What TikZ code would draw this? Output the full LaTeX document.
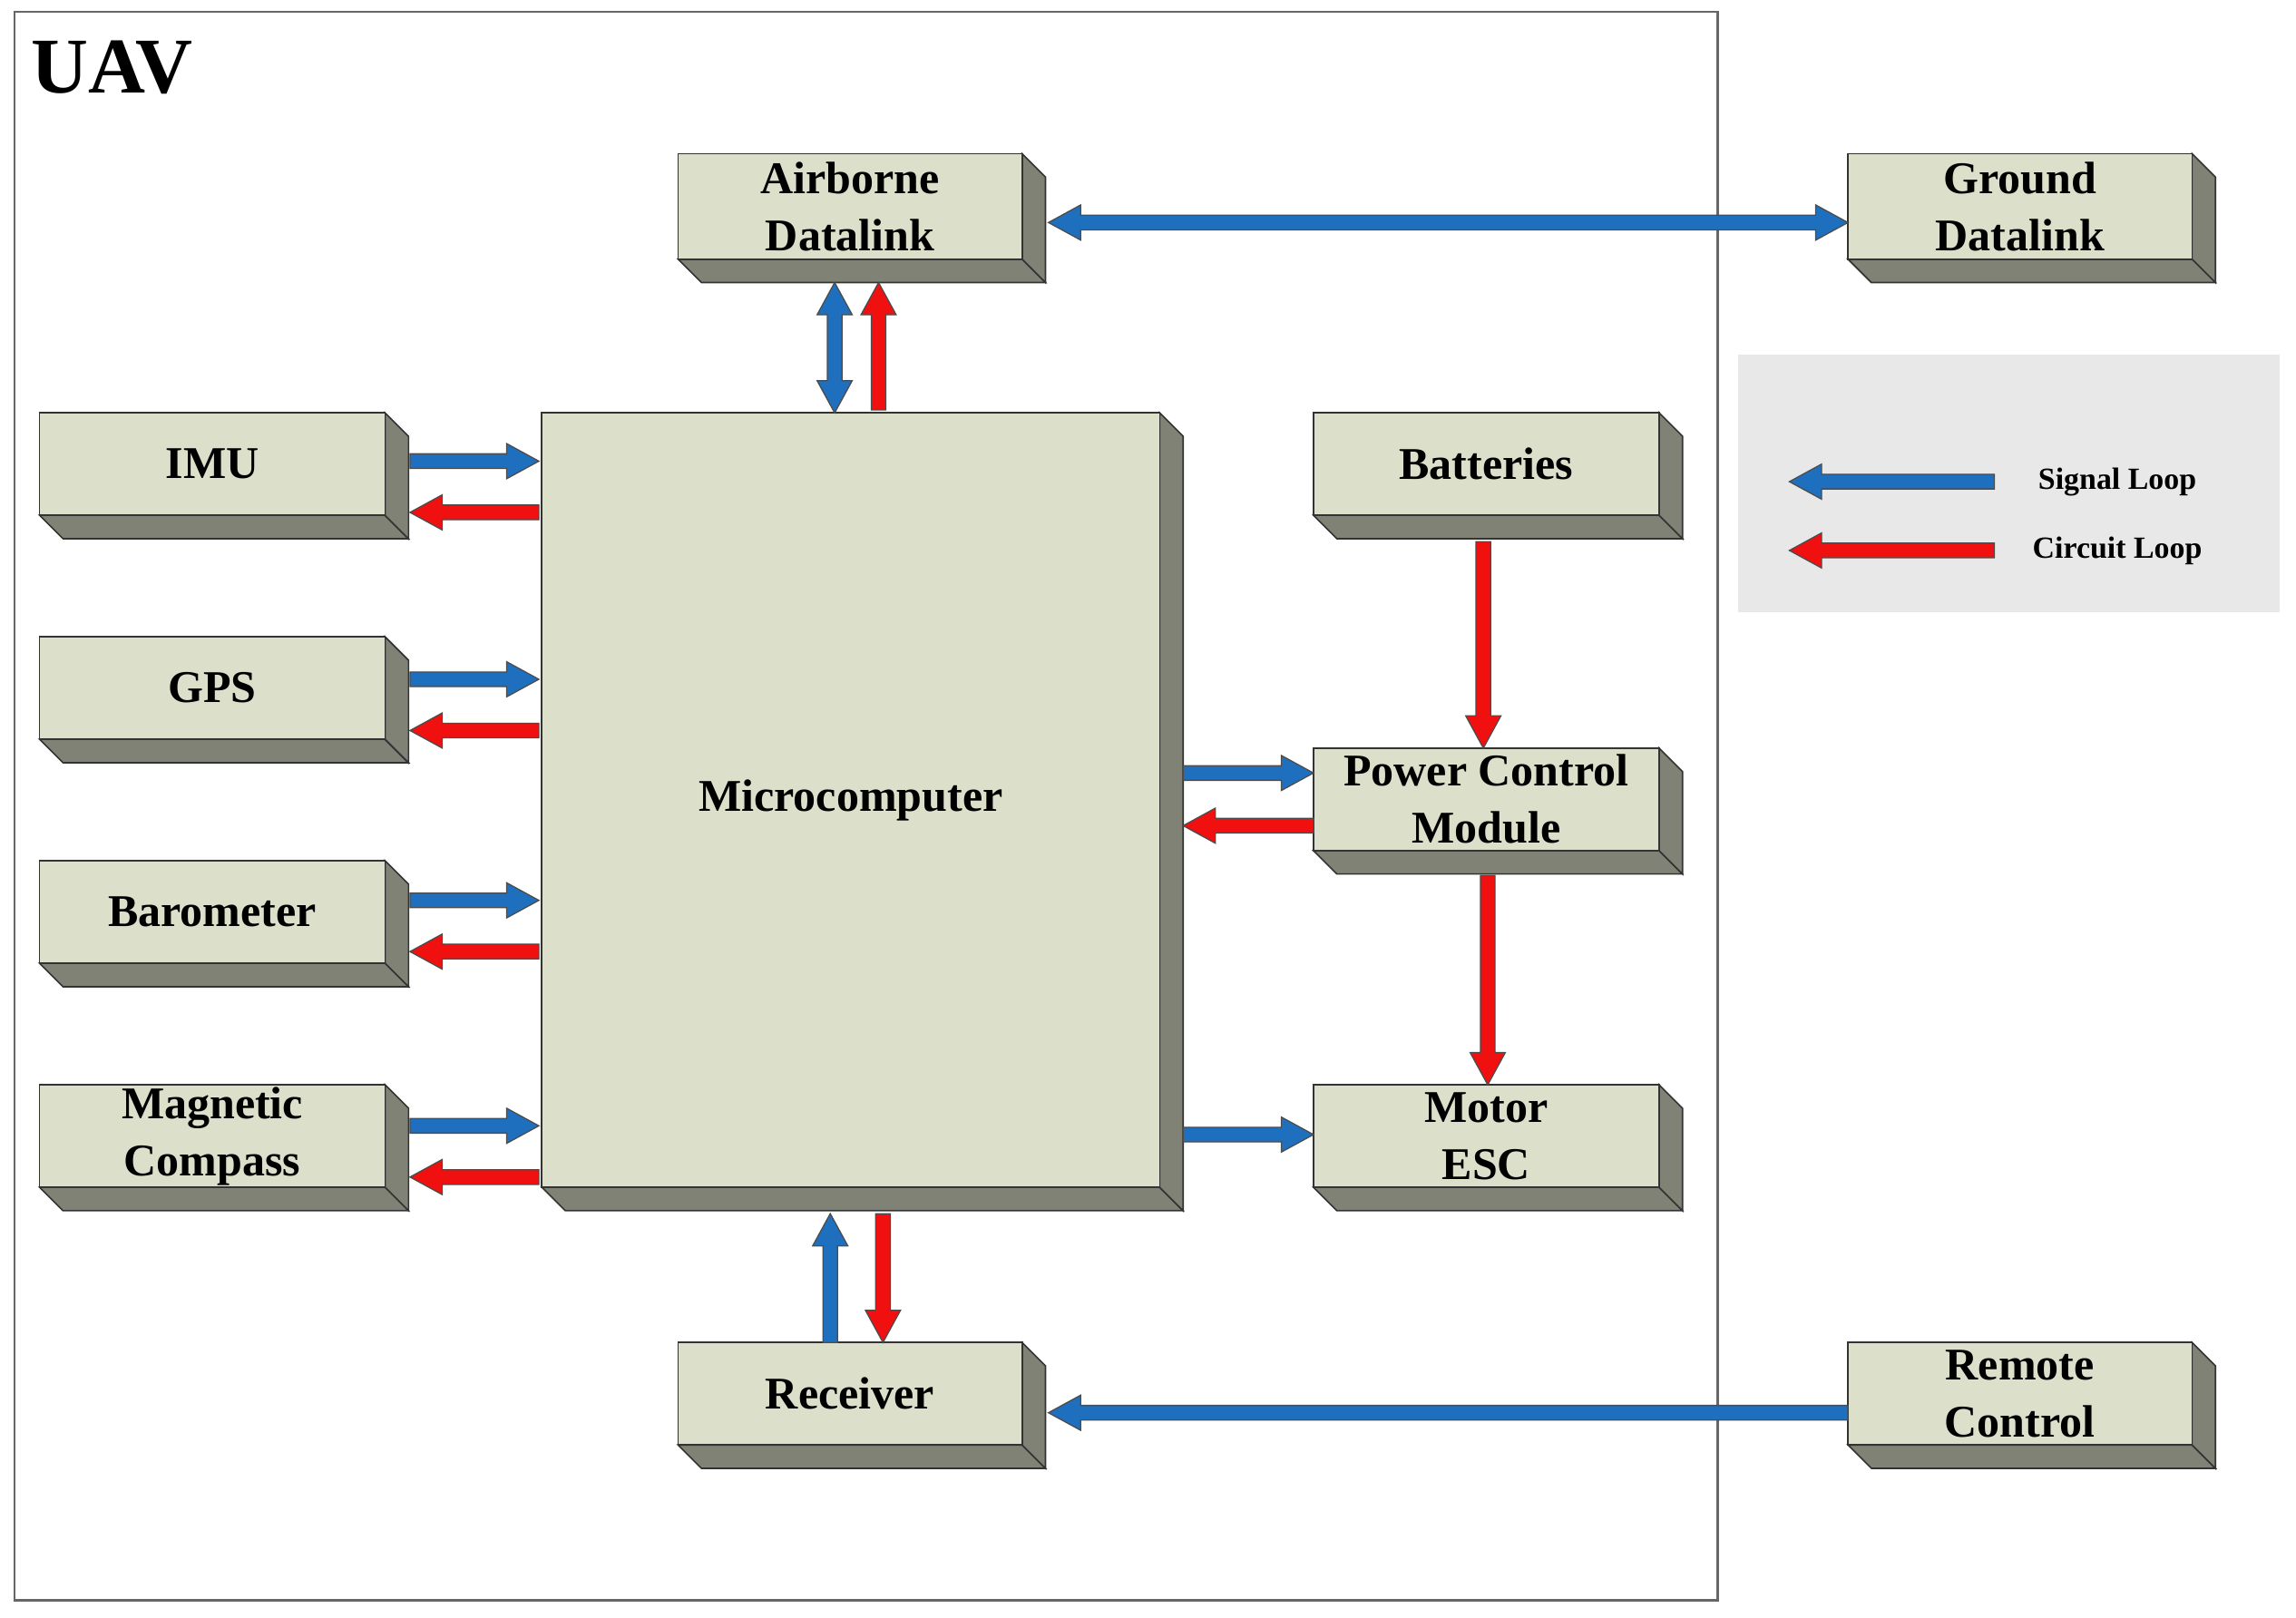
\documentclass[tikz,border=0pt]{standalone}
\usepackage{fontspec}
\setmainfont{Liberation Serif}
\begin{document}
\begin{tikzpicture}[x=1pt,y=-1pt,
  face/.style={fill=boxf,draw=black!80,line width=1pt},
  side/.style={fill=boxs,draw=black!80,line width=1pt},
  lbl/.style={font=\fontsize{31}{39}\selectfont\bfseries,align=center},
  sig/.style={fill=sigc,draw=black!70,line width=0.8pt},
  cir/.style={fill=circ,draw=black!70,line width=0.8pt}]
\definecolor{boxf}{HTML}{DCE0CB}
\definecolor{boxs}{HTML}{808275}
\definecolor{sigc}{HTML}{1F6FBF}
\definecolor{circ}{HTML}{F01010}
\useasboundingbox (0,0) rectangle (1568,1105);
\newcommand\bx[6]{% name x1 y1 x2 y2 text
  \draw[side] (#2,#5)--(#4,#5)--(#4+16,#5+16)--(#2+16,#5+16)--cycle;
  \draw[side] (#4,#3)--(#4+16,#3+16)--(#4+16,#5+16)--(#4,#5)--cycle;
  \draw[face] (#2,#3) rectangle (#4,#5);
  \node[lbl] (#1) at ({(#2+#4)/2},{(#3+#5)/2}) {#6};}
% horizontal arrow x1 -> x2 at y
\newcommand\ha[4]{\pgfmathsetmacro\dd{(#2>#1)?1:-1}\pgfmathsetmacro\hx{#2-22*\dd}
  \draw[#4] (#1,#3-5)--(\hx,#3-5)--(\hx,#3-12)--(#2,#3)--(\hx,#3+12)--(\hx,#3+5)--(#1,#3+5)--cycle;}
\newcommand\va[4]{\pgfmathsetmacro\dd{(#3>#2)?1:-1}\pgfmathsetmacro\hy{#3-22*\dd}
  \draw[#4] (#1-5,#2)--(#1-5,\hy)--(#1-12,\hy)--(#1,#3)--(#1+12,\hy)--(#1+5,\hy)--(#1+5,#2)--cycle;}
\newcommand\hda[4]{\draw[#4] (#1,#3)--(#1+22,#3-12)--(#1+22,#3-5)--(#2-22,#3-5)--(#2-22,#3-12)--(#2,#3)--(#2-22,#3+12)--(#2-22,#3+5)--(#1+22,#3+5)--(#1+22,#3+12)--cycle;}
\newcommand\vda[4]{\draw[#4] (#1,#2)--(#1+12,#2+22)--(#1+5,#2+22)--(#1+5,#3-22)--(#1+12,#3-22)--(#1,#3)--(#1-12,#3-22)--(#1-5,#3-22)--(#1-5,#2+22)--(#1-12,#2+22)--cycle;}
% frame
\draw[black!60,line width=1.5pt] (10,8) rectangle (1173,1093);
\node[font=\fontsize{54}{56}\selectfont\bfseries,anchor=west] (uav) at (18,46) {UAV};
% legend
\fill[black!9] (1187,242) rectangle (1557,418);
\ha{1362}{1222}{329}{sig}
\ha{1362}{1222}{376}{cir}
\node[font=\fontsize{21}{23}\selectfont\bfseries] (sl) at (1446,329) {Signal Loop};
\node[font=\fontsize{21}{23}\selectfont\bfseries] (cl) at (1446,376) {Circuit Loop};
% boxes
\bx{air}{463}{105}{698}{177}{Airborne\\Datalink}
\bx{gnd}{1262}{105}{1497}{177}{Ground\\Datalink}
\bx{imu}{27}{282}{263}{352}{IMU}
\bx{gps}{27}{435}{263}{505}{GPS}
\bx{baro}{27}{588}{263}{658}{Barometer}
\bx{mag}{27}{741}{263}{811}{Magnetic\\Compass}
\bx{mc}{370}{282}{792}{811}{Microcomputer}
\bx{bat}{897}{282}{1133}{352}{Batteries}
\bx{pcm}{897}{511}{1133}{581}{Power Control\\Module}
\bx{esc}{897}{741}{1133}{811}{Motor\\ESC}
\bx{rx}{463}{917}{698}{987}{Receiver}
\bx{rc}{1262}{917}{1497}{987}{Remote\\Control}
% arrows
\hda{716}{1262}{152}{sig}
\vda{570}{193}{282}{sig}
\va{600}{280}{193}{cir}
\ha{280}{368}{315}{sig}\ha{368}{280}{350}{cir}
\ha{280}{368}{464}{sig}\ha{368}{280}{499}{cir}
\ha{280}{368}{615}{sig}\ha{368}{280}{650}{cir}
\ha{280}{368}{769}{sig}\ha{368}{280}{804}{cir}
\ha{808}{897}{528}{sig}\ha{897}{808}{564}{cir}
\ha{808}{897}{775}{sig}
\va{1013}{370}{511}{cir}
\va{1016}{598}{741}{cir}
\va{567}{917}{829}{sig}
\va{603}{829}{917}{cir}
\ha{1262}{716}{965}{sig}
\end{tikzpicture}
\end{document}
